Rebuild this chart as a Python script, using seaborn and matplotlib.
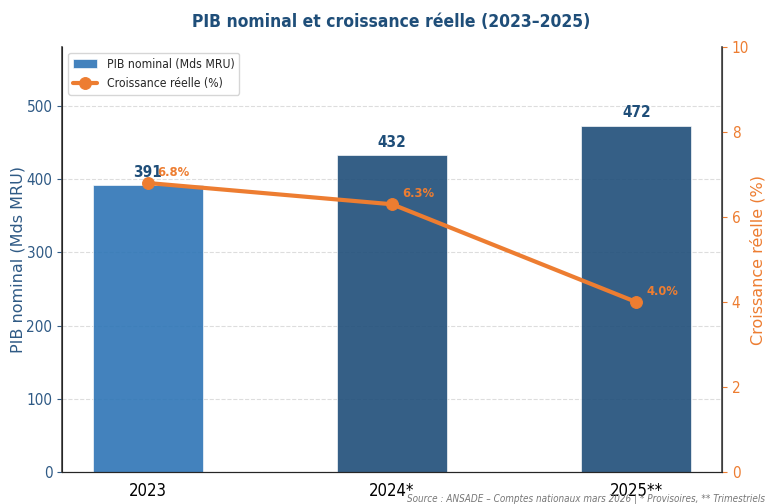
import pandas as pd
import matplotlib.pyplot as plt
import seaborn as sns

sns.set_style("white")
plt.rcParams["font.family"] = ["DejaVu Sans"]
plt.rcParams["font.stretch"] = "condensed"

annees = ["2023", "2024*", "2025**"]
pib = [391, 432, 472]
croissance = [6.8, 6.3, 4.0]

df = pd.DataFrame({"Année": annees, "PIB": pib, "Croissance": croissance})

bleu_fonce = "#1F4E79"
bleu = "#2E75B6"
orange = "#ED7D31"

fig, ax1 = plt.subplots(figsize=(7.68, 5.04), dpi=100)
fig.subplots_adjust(left=0.081, right=0.94, top=0.907, bottom=0.063)

sns.barplot(
    data=df, x="Année", y="PIB", ax=ax1,
    color=bleu_fonce, width=0.45, alpha=0.9, saturation=1,
    label="PIB nominal (Mds MRU)", zorder=2
)
ax1.patches[0].set_facecolor(bleu)
for p in ax1.patches:
    p.set_edgecolor("white")
    p.set_linewidth(0.5)

for i, v in enumerate(pib):
    ax1.text(i, v + 8, f"{v}", ha="center", va="bottom",
             fontsize=11, fontweight="bold", color=bleu_fonce)

ax1.set_ylim(0, 580)
ax1.set_xlim(-0.35, 2.35)
ax1.set_yticks([0, 100, 200, 300, 400, 500])
ax1.set_xlabel("")
ax1.set_ylabel("PIB nominal (Mds MRU)", fontsize=11.5, color="#2F5A85",
               fontstretch="normal", labelpad=1)
ax1.tick_params(axis="y", colors="#2F5A85", labelsize=11)
ax1.tick_params(axis="x", labelsize=12, colors="black")
ax1.yaxis.grid(True, linestyle="--", color="#DDDDDD", linewidth=0.8, zorder=0)
ax1.set_axisbelow(True)
ax1.spines["top"].set_visible(False)
ax1.spines["left"].set_color("#444444")
ax1.spines["left"].set_linewidth(1.2)

ax2 = ax1.twinx()
sns.lineplot(
    data=df, x="Année", y="Croissance", ax=ax2,
    color=orange, linewidth=3, marker="o", markersize=8.5,
    markeredgecolor=orange, label="Croissance réelle (%)", legend=False
)
for i, v in enumerate(croissance):
    ax2.annotate(f"{v:.1f}%", (i, v), xytext=(7, 5), textcoords="offset points",
                 fontsize=9.3, fontweight="bold", color=orange)

ax2.set_ylim(0, 10)
ax2.set_ylabel("Croissance réelle (%)", fontsize=11.5, color=orange,
               fontstretch="normal", labelpad=1)
ax2.tick_params(axis="y", colors=orange, labelsize=11)
ax2.spines["top"].set_visible(False)
ax2.spines["right"].set_color("#444444")
ax2.spines["right"].set_linewidth(1.2)

h1, l1 = ax1.get_legend_handles_labels()
h2, l2 = ax2.get_legend_handles_labels()
ax1.legend(h1 + h2, l1 + l2, loc="upper left", fontsize=8.7, frameon=True)

fig.suptitle("PIB nominal et croissance réelle (2023–2025)",
             fontsize=12.5, fontweight="bold", color=bleu_fonce, x=0.51, y=0.975)
fig.text(0.53, 0.0, "Source : ANSADE – Comptes nationaux mars 2026 | * Provisoires, ** Trimestriels",
         fontsize=7.1, style="italic", color="#777777", ha="left", va="bottom")

plt.savefig("out.png", dpi=100)
